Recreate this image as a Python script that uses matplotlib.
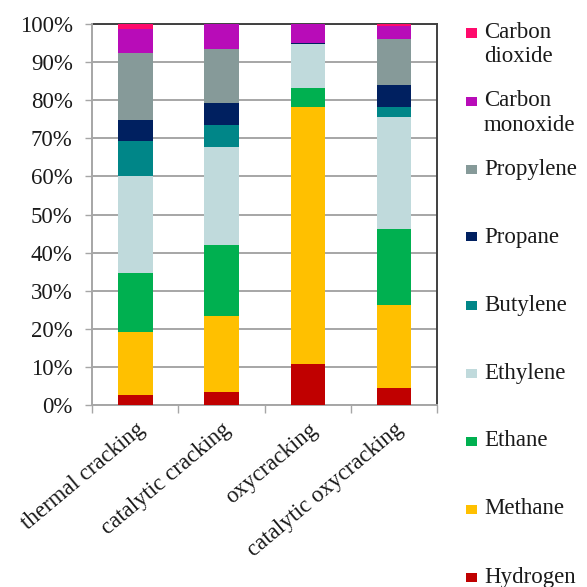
import matplotlib.pyplot as plt
from matplotlib.patches import Rectangle
from matplotlib.ticker import FuncFormatter, FixedLocator
import numpy as np

processes = ["thermal cracking", "catalytic cracking", "oxycracking",
             "catalytic oxycracking"]

# product composition, % of each process (stacked bottom -> top)
hydrogen = [2.6, 3.3, 10.8, 4.4]
methane = [16.7, 20.2, 67.4, 21.9]
ethane = [15.3, 18.5, 5.0, 19.9]
ethylene = [25.6, 25.8, 11.5, 29.3]
butylene = [9.0, 5.8, 0.0, 2.7]
propane = [5.6, 5.6, 0.3, 5.7]
propylene = [17.6, 14.2, 0.0, 12.2]
carbon_monoxide = [6.2, 6.6, 5.0, 3.5]
carbon_dioxide = [1.4, 0.0, 0.0, 0.4]

series = [
    ("Hydrogen", hydrogen, "#C00000"),
    ("Methane", methane, "#FFC000"),
    ("Ethane", ethane, "#00B050"),
    ("Ethylene", ethylene, "#C0DADC"),
    ("Butylene", butylene, "#008688"),
    ("Propane", propane, "#002060"),
    ("Propylene", propylene, "#869A99"),
    ("Carbon\nmonoxide", carbon_monoxide, "#B80CB8"),
    ("Carbon\ndioxide", carbon_dioxide, "#FF0A6C"),
]

plt.rcParams["font.family"] = ["Liberation Serif", "DejaVu Serif"]
fs = 16.5
txt = "#1A1A1A"

fig = plt.figure(figsize=(5.87, 5.87), dpi=100)
ax = fig.add_axes([0.157, 0.310, 0.588, 0.649])

x = np.arange(len(processes))
bottom = np.zeros(len(processes))
for name, vals, color in series:
    ax.bar(x, vals, width=0.4, bottom=bottom, color=color, zorder=3)
    bottom += np.array(vals)

ax.set_xlim(-0.5, len(processes) - 0.5)
ax.set_ylim(0, 100)
ax.set_yticks(np.arange(0, 101, 10))
ax.yaxis.set_major_formatter(FuncFormatter(lambda v, _: f"{v:.0f}%"))
ax.yaxis.grid(True, color="#A6A6A6", linewidth=1.4, zorder=0)
ax.tick_params(axis="y", labelsize=fs, length=5, width=1, color="#A6A6A6",
               pad=9, labelcolor=txt)

# category labels centred under bars, tick marks between categories
ax.xaxis.set_major_locator(FixedLocator(np.arange(-0.5, len(processes), 1.0)))
ax.set_xticklabels([])
ax.tick_params(axis="x", which="major", length=6, width=1, color="#A6A6A6")
ax.xaxis.set_minor_locator(FixedLocator(x))
ax.set_xticklabels(processes, minor=True, rotation=40, ha="right",
                   rotation_mode="anchor", fontsize=fs, color=txt)
ax.tick_params(axis="x", which="minor", length=0, pad=10)

for side in ("left", "bottom"):
    ax.spines[side].set_color("#A6A6A6")
    ax.spines[side].set_linewidth(1.4)
for side in ("top", "right"):
    ax.spines[side].set_color("#404040")
    ax.spines[side].set_linewidth(1.4)
ax.spines["left"].set_zorder(4)

# legend, top entry first
fig_h = 587.0
for i, (name, vals, color) in enumerate(reversed(series)):
    y_px = 33 + i * 68
    yf = 1 - y_px / fig_h
    fig.patches.append(Rectangle((466 / 587, yf - 4.5 / fig_h), 11 / 587, 9 / fig_h,
                                 transform=fig.transFigure, facecolor=color,
                                 edgecolor="none"))
    first, _, rest = name.partition("\n")
    fig.text(484 / 587, yf, first, fontsize=fs, va="center", ha="left",
             color=txt)
    if rest:
        fig.text(484 / 587, yf - 24 / fig_h, rest, fontsize=fs, va="center",
                 ha="left", color=txt)

fig.savefig("out.png", dpi=100)
